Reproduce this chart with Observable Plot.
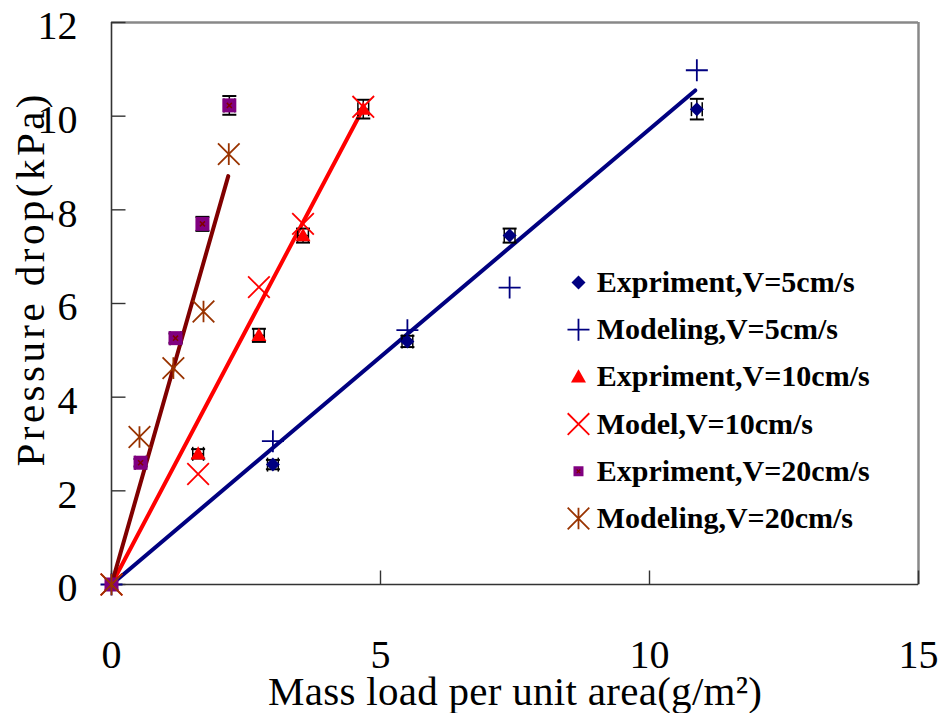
<!DOCTYPE html>
<html>
<head>
<meta charset="utf-8">
<script src="https://cdn.jsdelivr.net/npm/d3@7"></script>
<script src="https://cdn.jsdelivr.net/npm/@observablehq/plot@0.6"></script>
<style>
  html, body { margin: 0; padding: 0; background: #fff; }
  #chart { width: 940px; height: 713px; }
</style>
</head>
<body>
<div id="chart"></div>
<script>
// ---- Data ----
const x5 = [0, 3.0, 5.5, 7.4, 10.88];
const exp5 = [0, 2.56, 5.19, 7.45, 10.15];
const err5 = [0, 0.1, 0.12, 0.15, 0.22];
const mod5 = [0, 3.06, 5.43, 6.34, 10.98];

const x10 = [0, 1.61, 2.74, 3.56, 4.68];
const exp10 = [0, 2.79, 5.32, 7.45, 10.15];
const err10 = [0, 0.1, 0.14, 0.15, 0.2];
const mod10 = [0, 2.36, 6.35, 7.70, 10.20];

const x20e = [0, 0.54, 1.19, 1.69, 2.19];
const exp20 = [0, 2.6, 5.26, 7.70, 10.23];
const err20 = [0, 0.08, 0.1, 0.15, 0.2];
const x20m = [0, 0.52, 1.15, 1.71, 2.18];
const mod20 = [0, 3.15, 4.62, 5.83, 9.19];

// fitted lines: start and end points
const fit5 = [[0, 0], [10.85, 10.55]];
const fit10 = [[0, 0], [4.68, 10.17]];
const fit20 = [[0, 0], [2.17, 8.72]];

const xTicks = [0, 5, 10, 15];
const yTicks = [0, 2, 4, 6, 8, 10, 12];
const xErr = 0.1;

const legendLabels = [
  "Expriment,V=5cm/s",
  "Modeling,V=5cm/s",
  "Expriment,V=10cm/s",
  "Model,V=10cm/s",
  "Expriment,V=20cm/s",
  "Modeling,V=20cm/s"
];

const xTitle = "Mass load per unit area(g/m\u00B2)";
const yTitle = "Pressure drop(kPa)";

// ---- Symbols ----
const plusSym = {draw(c, s) { const r = Math.sqrt(s / Math.PI); c.moveTo(-r, 0); c.lineTo(r, 0); c.moveTo(0, -r); c.lineTo(0, r); }};
const timesSym = {draw(c, s) { const r = Math.sqrt(s / Math.PI) * 0.72; c.moveTo(-r, -r); c.lineTo(r, r); c.moveTo(r, -r); c.lineTo(-r, r); }};
const starSym = {draw(c, s) { const r = Math.sqrt(s / Math.PI) * 0.72; c.moveTo(-r, -r); c.lineTo(r, r); c.moveTo(r, -r); c.lineTo(-r, r); c.moveTo(0, -r); c.lineTo(0, r); }};
const diamondSym = {draw(c, s) { const r = Math.sqrt(s / Math.PI); c.moveTo(0, -r); c.lineTo(r, 0); c.lineTo(0, r); c.lineTo(-r, 0); c.closePath(); }};
const triSym = {draw(c, s) { const r = Math.sqrt(s / Math.PI); c.moveTo(0, -r); c.lineTo(r, r * 0.75); c.lineTo(-r, r * 0.75); c.closePath(); }};
const squareSym = {draw(c, s) { const r = Math.sqrt(s / Math.PI); c.rect(-r, -r, 2 * r, 2 * r); }};

const zip = (xs, ys, es) => xs.map((x, i) => ({x, y: ys[i], e: es ? es[i] : 0}));
const e5 = zip(x5, exp5, err5), m5 = zip(x5, mod5);
const e10 = zip(x10, exp10, err10), m10 = zip(x10, mod10);
const e20 = zip(x20e, exp20, err20), m20 = zip(x20m, mod20);
const expAll = [...e5, ...e10, ...e20].filter(d => d.e > 0);

// pixel-size helpers (converted into data units from the scale ranges)
const W = 940, H = 713, ML = 111, MR = 22, MT = 22, MB = 129;
const pxX = (940 - ML - MR) / 15, pxY = (713 - MT - MB) / 12;
const capX = 7 / pxX, capY = 7 / pxY;
const tickLenX = 14 / pxX, tickLenY = 14 / pxY;

const legendSpec = [
  {sym: diamondSym, r: 7, fill: "#000080", stroke: "none"},
  {sym: plusSym, r: 11, fill: "none", stroke: "#000080"},
  {sym: triSym, r: 7.5, fill: "#FF0000", stroke: "none"},
  {sym: timesSym, r: 15, fill: "none", stroke: "#FF0000"},
  {sym: squareSym, r: 5, fill: "#800080", stroke: "none"},
  {sym: starSym, r: 15, fill: "none", stroke: "#993300"}
];
const legendRows = legendLabels.map((label, i) => ({label, i, y: 6.45 - i * 1.008}));
const legMarkX = 8.68, legTextX = 9.02;

const font = "'Liberation Serif', 'Times New Roman', serif";

const marks = [
  // frame
  Plot.ruleY([12], {stroke: "#888", strokeWidth: 2.5}),
  Plot.ruleX([15], {stroke: "#888", strokeWidth: 2.5}),
  Plot.ruleX([0], {stroke: "#333", strokeWidth: 1.6}),
  Plot.ruleY([0], {stroke: "#333", strokeWidth: 1.6}),
  // inward ticks
  Plot.link(xTicks, {x1: d => d, x2: d => d, y1: 0, y2: tickLenY, stroke: "#333", strokeWidth: 1.4}),
  Plot.link(yTicks, {y1: d => d, y2: d => d, x1: 0, x2: tickLenX, stroke: "#333", strokeWidth: 1.4}),
  // tick labels
  Plot.axisX({ticks: xTicks, tickSize: 0, tickPadding: 55, fontSize: 40, label: null, tickFormat: d => String(d)}),
  Plot.axisY({ticks: yTicks, tickSize: 0, tickPadding: 34, fontSize: 40, dy: 4, label: null, tickFormat: d => String(d)}),
  // titles
  Plot.text([xTitle], {text: d => d, frameAnchor: "bottom", lineAnchor: "middle", textAnchor: "middle", dy: 107, fontSize: 41}),
  Plot.text([yTitle], {text: d => d, frameAnchor: "left", lineAnchor: "middle", textAnchor: "middle", dx: -81, dy: -23, rotate: -90, fontSize: 41}),
  // fitted lines
  Plot.line(fit5, {x: d => d[0], y: d => d[1], stroke: "#000080", strokeWidth: 4}),
  Plot.line(fit10, {x: d => d[0], y: d => d[1], stroke: "#FF0000", strokeWidth: 4}),
  Plot.line(fit20, {x: d => d[0], y: d => d[1], stroke: "#800000", strokeWidth: 4}),
  // error bars (y)
  Plot.link(expAll, {x1: "x", x2: "x", y1: d => d.y - d.e, y2: d => d.y + d.e, stroke: "#000", strokeWidth: 1.5}),
  Plot.link(expAll, {x1: d => d.x - capX, x2: d => d.x + capX, y1: d => d.y + d.e, y2: d => d.y + d.e, stroke: "#000", strokeWidth: 2}),
  Plot.link(expAll, {x1: d => d.x - capX, x2: d => d.x + capX, y1: d => d.y - d.e, y2: d => d.y - d.e, stroke: "#000", strokeWidth: 2}),
  // error bars (x)
  Plot.link(expAll, {x1: d => d.x - xErr, x2: d => d.x + xErr, y1: "y", y2: "y", stroke: "#000", strokeWidth: 1.5}),
  Plot.link(expAll, {x1: d => d.x - xErr, x2: d => d.x - xErr, y1: d => d.y - capY, y2: d => d.y + capY, stroke: "#000", strokeWidth: 1.5}),
  Plot.link(expAll, {x1: d => d.x + xErr, x2: d => d.x + xErr, y1: d => d.y - capY, y2: d => d.y + capY, stroke: "#000", strokeWidth: 1.5}),
  // points
  Plot.dot(e5, {x: "x", y: "y", symbol: diamondSym, r: 7, fill: "#000080"}),
  Plot.dot(m5, {x: "x", y: "y", symbol: plusSym, r: 11, fill: "none", stroke: "#000080", strokeWidth: 1.8}),
  Plot.dot(e10, {x: "x", y: "y", symbol: triSym, r: 7.5, fill: "#FF0000"}),
  Plot.dot(m10, {x: "x", y: "y", symbol: timesSym, r: 15, fill: "none", stroke: "#FF0000", strokeWidth: 1.8}),
  Plot.dot(e20, {x: "x", y: "y", symbol: squareSym, r: 7, fill: "#800080"}),
  Plot.dot(e20, {x: "x", y: "y", symbol: timesSym, r: 3.5, fill: "none", stroke: "#800000", strokeWidth: 1.5}),
  Plot.dot(m20, {x: "x", y: "y", symbol: starSym, r: 15, fill: "none", stroke: "#993300", strokeWidth: 1.8}),
  // legend
  ...legendSpec.map((s, i) => Plot.dot([legendRows[i]], {x: () => legMarkX, y: "y", symbol: s.sym, r: s.r, fill: s.fill, stroke: s.stroke, strokeWidth: 1.8})),
  Plot.dot([legendRows[4]], {x: () => legMarkX, y: "y", symbol: timesSym, r: 2.5, fill: "none", stroke: "#800000", strokeWidth: 1.2}),
  Plot.text(legendRows, {x: () => legTextX, y: "y", text: "label", textAnchor: "start", fontSize: 30, fontWeight: "bold"})
];

const chart = Plot.plot({
  width: W, height: H,
  marginLeft: ML, marginRight: MR, marginTop: MT, marginBottom: MB,
  x: {domain: [0, 15], axis: null},
  y: {domain: [0, 12], axis: null},
  style: {fontFamily: font, background: "#fff", color: "#000", fontSize: "40px"},
  marks
});
// stretch the axis titles to the spacing seen in the reference
d3.select(chart).selectAll("text").each(function () {
  const t = this.textContent;
  if (t === yTitle) d3.select(this).attr("textLength", 372).attr("lengthAdjust", "spacing");
  if (t === xTitle) d3.select(this).attr("textLength", 494).attr("lengthAdjust", "spacing");
});
document.getElementById("chart").appendChild(chart);
</script>
</body>
</html>
